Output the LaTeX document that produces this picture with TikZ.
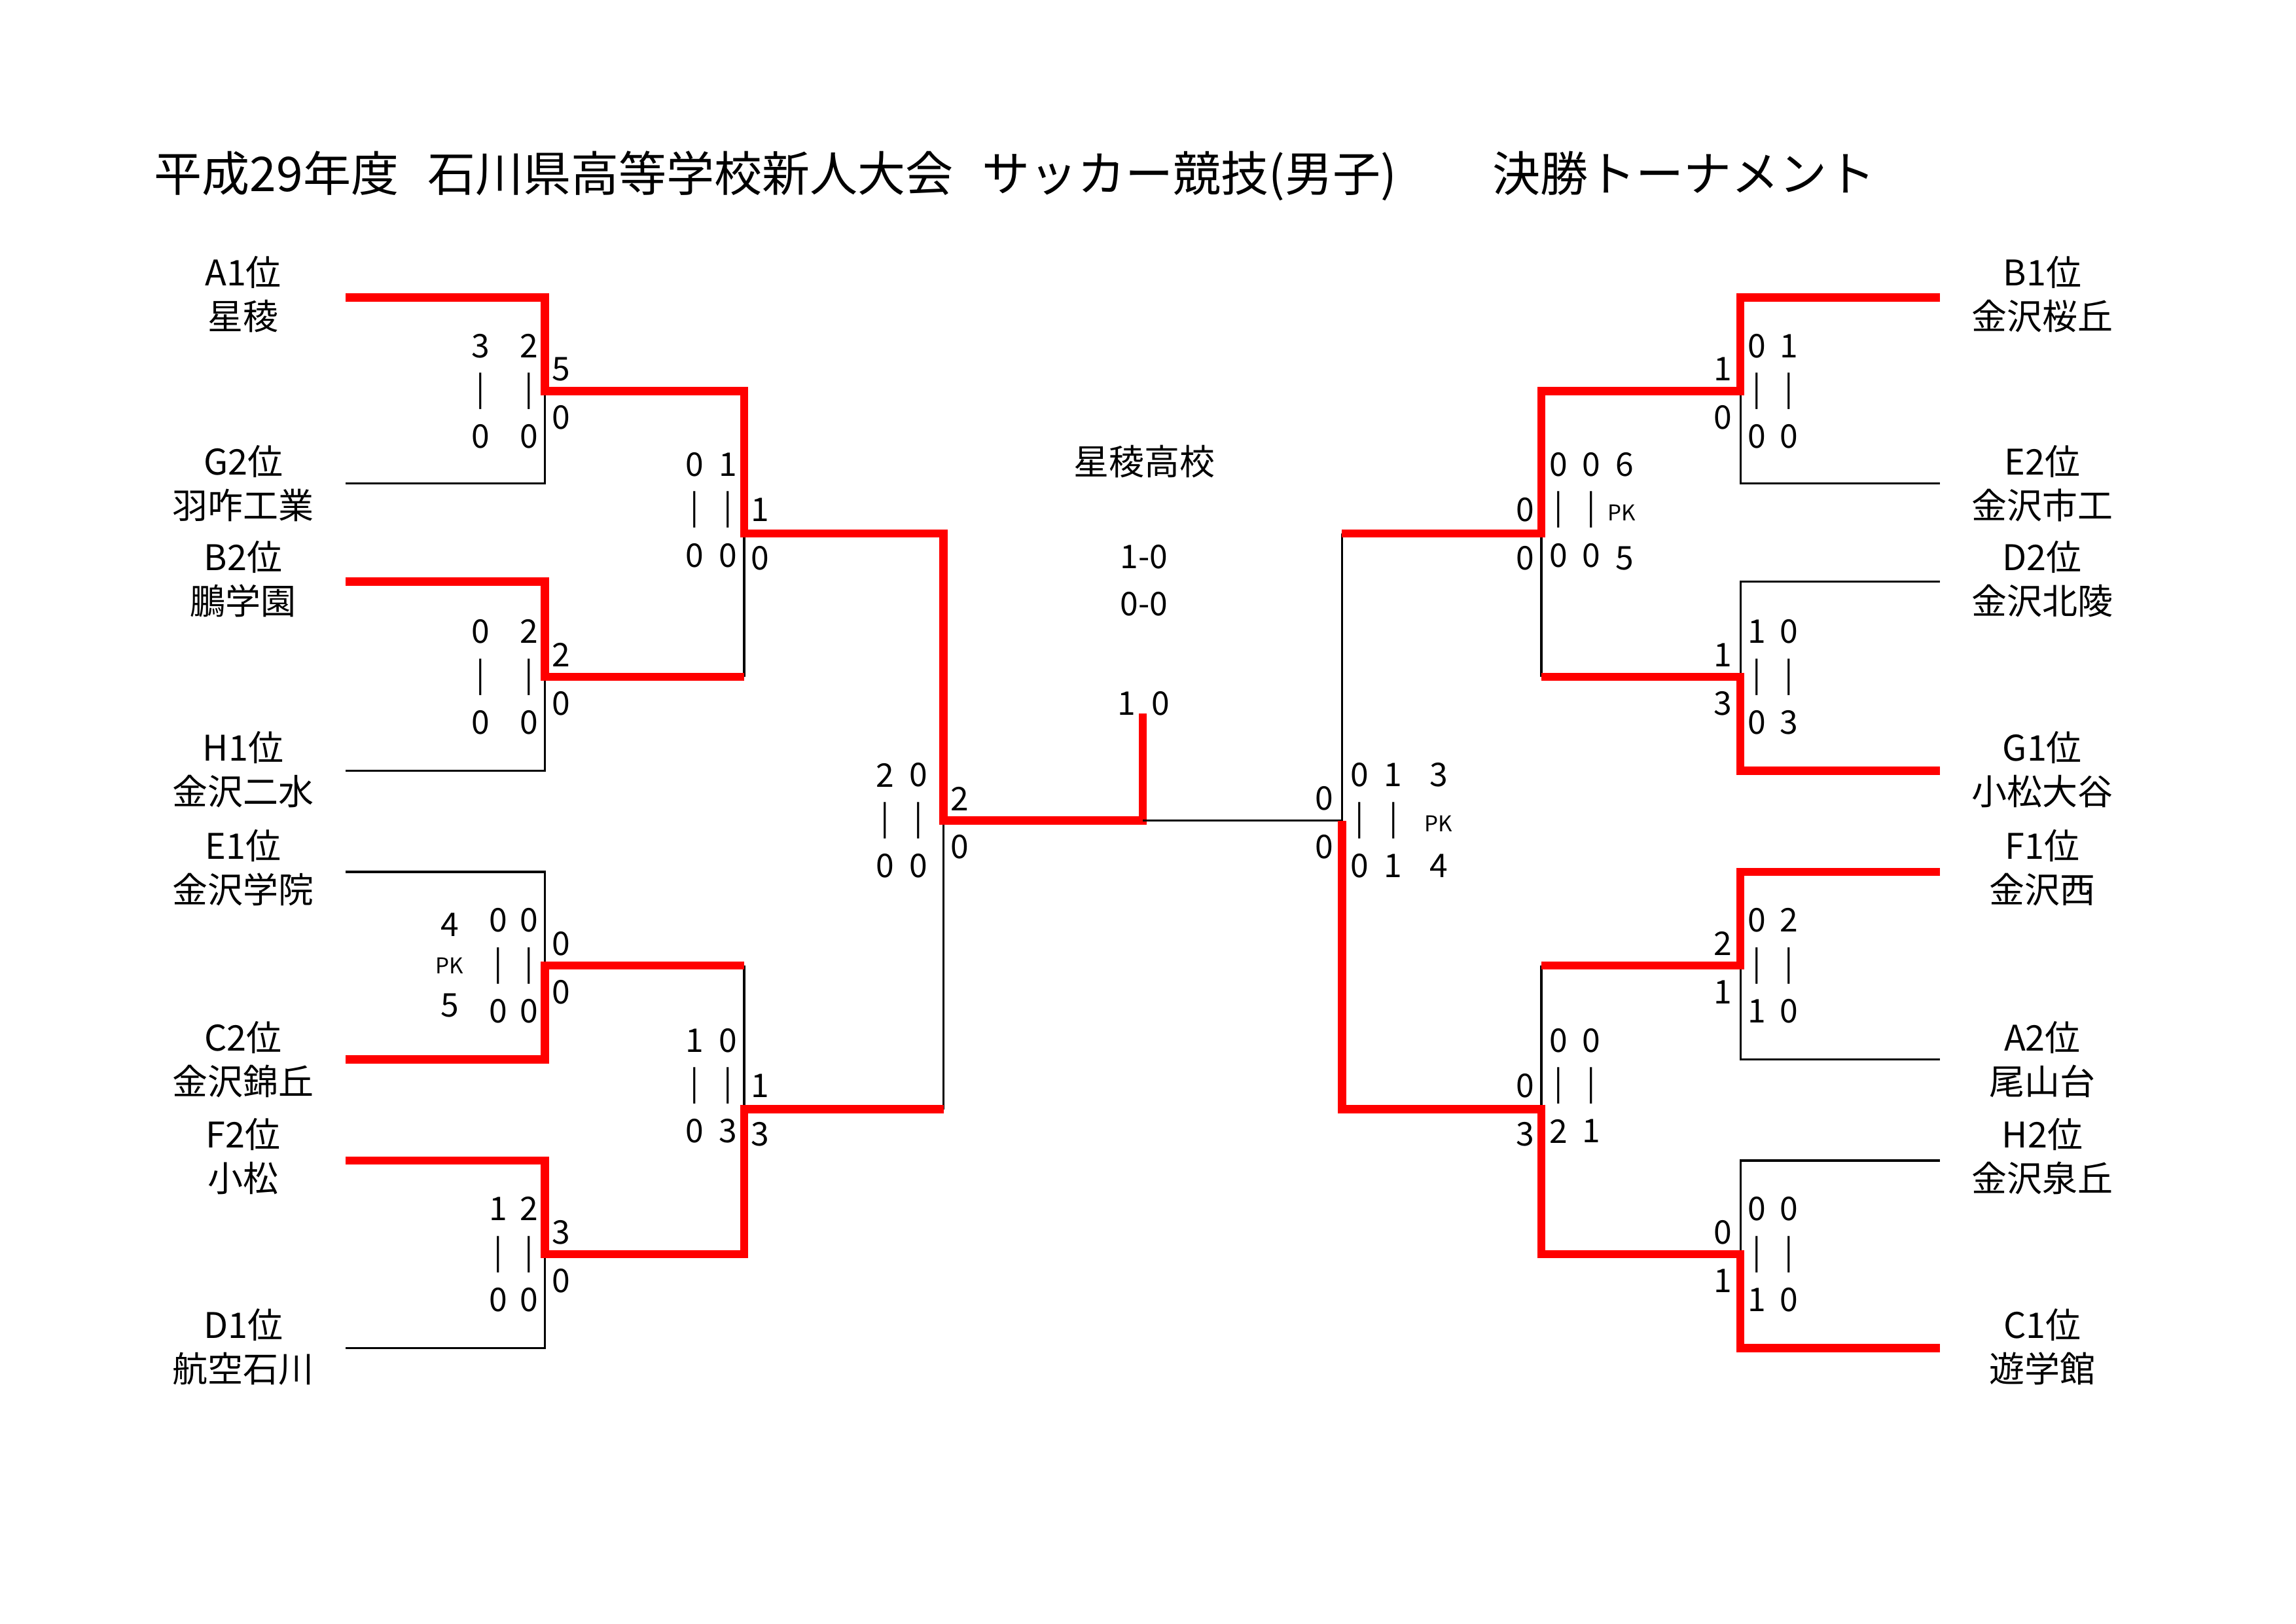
\documentclass[tikz,border=0pt]{standalone}
\usepackage{fontspec}
\setmainfont{Noto Sans CJK JP}
\usepackage{tikz}

\newcommand{\scol}[4]{% x, y, top, bottom
  \node[score] at (#1,#2-31) {#3};
  \node[score] at (#1,#2) {|};
  \node[score] at (#1,#2+31) {#4};}
\newcommand{\spair}[4]{% x, y top, top, bottom
  \node[score] at (#1,#2) {#3};
  \node[score] at (#1,#2+33) {#4};}

\begin{document}
\begin{tikzpicture}[x=0.01895cm,y=-0.01895cm]
\tikzset{win/.style={red,line width=3pt},
  lose/.style={black,line width=0.8pt},
  score/.style={font=\fontsize{12}{12}\selectfont,inner sep=0pt},
  pk/.style={font=\fontsize{8}{8}\selectfont,inner sep=0pt},
  team/.style={font=\fontsize{13}{13}\selectfont,inner sep=0pt}}
\useasboundingbox (0,0) rectangle ++(29.7cm,-21cm);
\node[anchor=west,inner sep=0pt,font=\fontsize{17.6}{17.6}\selectfont] (title) at (105,120)
  {平成29年度\hspace{0.6em}石川県高等学校新人大会\hspace{0.6em}サッカー競技(男子)\hspace{2em}決勝トーナメント};
% left side
\draw[lose] (236,330) -- (372,330) -- (372,267);
\draw[lose] (236,526) -- (372,526) -- (372,462);
\draw[lose] (236,595) -- (372,595) -- (372,659);
\draw[lose] (236,920) -- (372,920) -- (372,856);
\draw[lose] (508,462) -- (508,364);
\draw[lose] (508,659) -- (508,757);
\draw[lose] (644,757) -- (644,560);
\draw[win] (236,203) -- (372,203) -- (372,267) -- (508,267) -- (508,364) -- (644,364) -- (644,560) -- (780,560) -- (780,487);
\draw[win] (236,397) -- (372,397) -- (372,462) -- (508,462);
\draw[win] (236,723) -- (372,723) -- (372,659) -- (508,659);
\draw[win] (236,792) -- (372,792) -- (372,856) -- (508,856) -- (508,757) -- (644,757);
% right side
\draw[lose] (780,560) -- (916,560);
\draw[lose] (1324,330) -- (1188,330) -- (1188,267);
\draw[lose] (1324,397) -- (1188,397) -- (1188,462);
\draw[lose] (1324,723) -- (1188,723) -- (1188,659);
\draw[lose] (1324,792) -- (1188,792) -- (1188,856);
\draw[lose] (1052,462) -- (1052,364);
\draw[lose] (1052,659) -- (1052,757);
\draw[lose] (916,364) -- (916,560);
\draw[win] (1324,203) -- (1188,203) -- (1188,267) -- (1052,267) -- (1052,364) -- (916,364);
\draw[win] (1324,526) -- (1188,526) -- (1188,462) -- (1052,462);
\draw[win] (1324,595) -- (1188,595) -- (1188,659) -- (1052,659);
\draw[win] (1324,920) -- (1188,920) -- (1188,856) -- (1052,856) -- (1052,757) -- (916,757) -- (916,560);
% teams
\foreach \y/\a/\b in {186/A1位/星稜, 315/G2位/羽咋工業, 380/B2位/鵬学園, 510/H1位/金沢二水,
    577/E1位/金沢学院, 708/C2位/金沢錦丘, 774/F2位/小松, 904/D1位/航空石川}
  {\node[team] at (166,\y) {\a}; \node[team] at (166,\y+30) {\b};}
\foreach \y/\a/\b in {186/B1位/金沢桜丘, 315/E2位/金沢市工, 380/D2位/金沢北陵, 510/G1位/小松大谷,
    577/F1位/金沢西, 708/A2位/尾山台, 774/H2位/金沢泉丘, 904/C1位/遊学館}
  {\node[team] at (1394,\y) {\a}; \node[team] at (1394,\y+30) {\b};}
% scores left
\scol{328}{267}{3}{0} \scol{361}{267}{2}{0} \spair{383}{252}{5}{0}
\scol{328}{462}{0}{0} \scol{361}{462}{2}{0} \spair{383}{447}{2}{0}
\node[score] at (307,631) {4}; \node[pk] at (307,659) {PK}; \node[score] at (307,686) {5};
\scol{340}{659}{0}{0} \scol{361}{659}{0}{0} \spair{383}{644}{0}{0}
\scol{340}{856}{1}{0} \scol{361}{856}{2}{0} \spair{383}{841}{3}{0}
\scol{474}{348}{0}{0} \scol{497}{348}{1}{0} \spair{519}{348}{1}{0}
\scol{474}{741}{1}{0} \scol{497}{741}{0}{3} \spair{519}{741}{1}{3}
\scol{604}{560}{2}{0} \scol{627}{560}{0}{0} \spair{655}{545}{2}{0}
% centre
\node[team] (champ) at (781,315) {星稜高校};
\node[score] at (781,380) {1-0};
\node[score] at (781,412) {0-0};
\node[score] at (769,480) {1}; \node[score] at (792,480) {0};
% scores right
\spair{904}{545}{0}{0} \scol{928}{560}{0}{0} \scol{951}{560}{1}{1}
\node[score] at (982,529) {3}; \node[pk] at (982,562) {PK}; \node[score] at (982,591) {4};
\spair{1041}{348}{0}{0} \scol{1064}{348}{0}{0} \scol{1086}{348}{0}{0}
\node[score] at (1109,317) {6}; \node[pk] at (1107,350) {PK}; \node[score] at (1109,381) {5};
\spair{1041}{741}{0}{3} \scol{1064}{741}{0}{2} \scol{1086}{741}{0}{1}
\spair{1176}{252}{1}{0} \scol{1199}{267}{0}{0} \scol{1221}{267}{1}{0}
\spair{1176}{447}{1}{3} \scol{1199}{462}{1}{0} \scol{1221}{462}{0}{3}
\spair{1176}{644}{2}{1} \scol{1199}{659}{0}{1} \scol{1221}{659}{2}{0}
\spair{1176}{841}{0}{1} \scol{1199}{856}{0}{1} \scol{1221}{856}{0}{0}
\end{tikzpicture}
\end{document}
